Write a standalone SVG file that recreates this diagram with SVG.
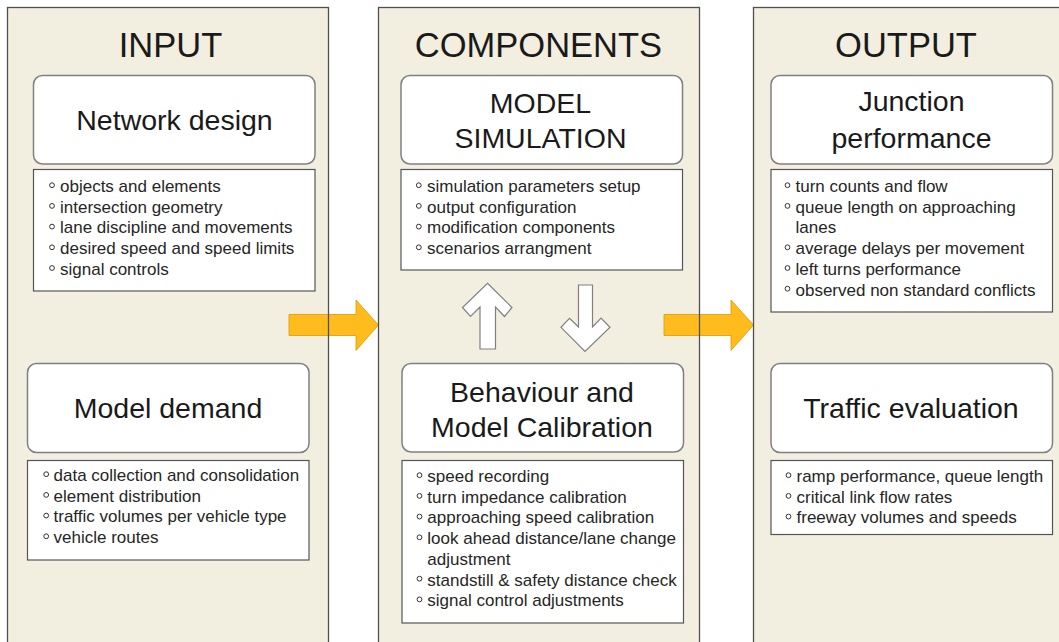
<svg xmlns="http://www.w3.org/2000/svg" width="1059" height="642" viewBox="0 0 1059 642">
<style>
.panel{fill:#F2EFE0;stroke:none}
.pline{fill:none;stroke:#505050;stroke-width:1.3}
.title{font-family:"Liberation Sans",Arial,sans-serif;font-size:34.5px;fill:#1a1a1a;text-anchor:middle}
.head{fill:#fff;stroke:#808080;stroke-width:1.5}
.htxt{font-family:"Liberation Sans",Arial,sans-serif;font-size:28.5px;fill:#1a1a1a;text-anchor:middle}
.list{fill:#fff;stroke:#555;stroke-width:1.2}
.ltxt{font-family:"Liberation Sans",Arial,sans-serif;font-size:17px;fill:#262626}
.bul{fill:#fff;stroke:#333;stroke-width:1}
.orange{fill:#FFBC1C;stroke:#D99A00;stroke-width:0.8}
.white{fill:#fff;stroke:#808080;stroke-width:1.2;stroke-linejoin:miter}
</style>
<rect width="1059" height="642" fill="#fff"/>
<g id="panels-fill">
<rect class="panel" x="7.5" y="7.5" width="321" height="640"/>
<rect class="panel" x="378.5" y="7.5" width="321" height="640"/>
<rect class="panel" x="753.5" y="7.5" width="320" height="640"/>
</g>
<g id="connectors">
<polygon class="orange" points="289,314.5 356,314.5 356,300 378.5,325 356,350.5 356,335.5 289,335.5"/>
<polygon class="orange" points="664,314.5 731,314.5 731,300 753.5,325 731,350.5 731,335.5 664,335.5"/>
<polygon class="white" points="487.5,283.3 512,307.5 504.5,316.5 495.5,307 495.5,349 480,349 480,307 470.5,316.5 462.5,307.5"/>
<polygon class="white" points="578.5,285 592.5,285 592.5,327 601,318 610,327.3 585,351.5 561,327.3 569.5,318.3 578.5,327"/>
</g>
<g id="panels-outline">
<rect class="pline" x="7.5" y="7.5" width="321" height="640"/>
<rect class="pline" x="378.5" y="7.5" width="321" height="640"/>
<rect class="pline" x="753.5" y="7.5" width="320" height="640"/>
</g>
<g id="title-input"><text class="title" x="170.5" y="57">INPUT</text></g>
<g id="network-design">
<rect class="head" x="33.5" y="75.5" width="281.5" height="88.5" rx="9"/>
<text class="htxt" x="174.5" y="129.5">Network design</text>
</g>
<g id="network-design-list">
<rect class="list" x="33.5" y="169.5" width="281.5" height="121.5"/>
<g class="bul"><circle cx="52" cy="185.2" r="2.4"/><circle cx="52" cy="205.9" r="2.4"/><circle cx="52" cy="226.6" r="2.4"/><circle cx="52" cy="247.3" r="2.4"/><circle cx="52" cy="268" r="2.4"/></g>
<text class="ltxt" x="60" y="192">objects and elements</text>
<text class="ltxt" x="60" y="212.7">intersection geometry</text>
<text class="ltxt" x="60" y="233.4">lane discipline and movements</text>
<text class="ltxt" x="60" y="254.1">desired speed and speed limits</text>
<text class="ltxt" x="60" y="274.8">signal controls</text>
</g>
<g id="model-demand">
<rect class="head" x="27.5" y="363.5" width="281.5" height="89" rx="9"/>
<text class="htxt" x="168" y="418">Model demand</text>
</g>
<g id="model-demand-list">
<rect class="list" x="27.5" y="460.5" width="281.5" height="99.5"/>
<g class="bul"><circle cx="46.2" cy="474.2" r="2.4"/><circle cx="46.2" cy="494.9" r="2.4"/><circle cx="46.2" cy="515.6" r="2.4"/><circle cx="46.2" cy="536.3" r="2.4"/></g>
<text class="ltxt" x="53.5" y="481">data collection and consolidation</text>
<text class="ltxt" x="53.5" y="501.7">element distribution</text>
<text class="ltxt" x="53.5" y="522.4">traffic volumes per vehicle type</text>
<text class="ltxt" x="53.5" y="543.1">vehicle routes</text>
</g>
<g id="title-components"><text class="title" x="538.5" y="57">COMPONENTS</text></g>
<g id="model-simulation">
<rect class="head" x="401" y="75.5" width="281.5" height="88.5" rx="9"/>
<text class="htxt" x="540.5" y="112.7">MODEL</text>
<text class="htxt" x="540.5" y="148.3">SIMULATION</text>
</g>
<g id="model-simulation-list">
<rect class="list" x="401" y="169.5" width="281.5" height="100.5"/>
<g class="bul"><circle cx="418.8" cy="185.2" r="2.4"/><circle cx="418.8" cy="205.9" r="2.4"/><circle cx="418.8" cy="226.6" r="2.4"/><circle cx="418.8" cy="247.3" r="2.4"/></g>
<text class="ltxt" x="427" y="192">simulation parameters setup</text>
<text class="ltxt" x="427" y="212.7">output configuration</text>
<text class="ltxt" x="427" y="233.4">modification components</text>
<text class="ltxt" x="427" y="254.1">scenarios arrangment</text>
</g>
<g id="behaviour-calibration">
<rect class="head" x="402" y="363.5" width="281.5" height="88.5" rx="9"/>
<text class="htxt" x="542" y="401.7">Behaviour and</text>
<text class="htxt" x="542" y="436.5">Model Calibration</text>
</g>
<g id="behaviour-calibration-list">
<rect class="list" x="402" y="460.5" width="281.5" height="162.5"/>
<g class="bul"><circle cx="419.5" cy="475.2" r="2.4"/><circle cx="419.5" cy="495.9" r="2.4"/><circle cx="419.5" cy="516.6" r="2.4"/><circle cx="419.5" cy="537.3" r="2.4"/><circle cx="419.5" cy="578.7" r="2.4"/><circle cx="419.5" cy="599.4" r="2.4"/></g>
<text class="ltxt" x="427.3" y="482">speed recording</text>
<text class="ltxt" x="427.3" y="502.7">turn impedance calibration</text>
<text class="ltxt" x="427.3" y="523.4">approaching speed calibration</text>
<text class="ltxt" x="427.3" y="544.1">look ahead distance/lane change</text>
<text class="ltxt" x="427.3" y="564.8">adjustment</text>
<text class="ltxt" x="427.3" y="585.5">standstill &amp; safety distance check</text>
<text class="ltxt" x="427.3" y="606.2">signal control adjustments</text>
</g>
<g id="title-output"><text class="title" x="906" y="57">OUTPUT</text></g>
<g id="junction-performance">
<rect class="head" x="771" y="75.5" width="281.5" height="88.5" rx="9"/>
<text class="htxt" x="911.5" y="111">Junction</text>
<text class="htxt" x="911.5" y="147.5">performance</text>
</g>
<g id="junction-performance-list">
<rect class="list" x="771" y="169.5" width="281.5" height="142.5"/>
<g class="bul"><circle cx="787.5" cy="185.2" r="2.4"/><circle cx="787.5" cy="205.9" r="2.4"/><circle cx="787.5" cy="247.3" r="2.4"/><circle cx="787.5" cy="268" r="2.4"/><circle cx="787.5" cy="288.7" r="2.4"/></g>
<text class="ltxt" x="795.5" y="192">turn counts and flow</text>
<text class="ltxt" x="795.5" y="212.7">queue length on approaching</text>
<text class="ltxt" x="795.5" y="233.4">lanes</text>
<text class="ltxt" x="795.5" y="254.1">average delays per movement</text>
<text class="ltxt" x="795.5" y="274.8">left turns performance</text>
<text class="ltxt" x="795.5" y="295.5">observed non standard conflicts</text>
</g>
<g id="traffic-evaluation">
<rect class="head" x="771" y="363.5" width="281.5" height="89" rx="9"/>
<text class="htxt" x="911" y="418">Traffic evaluation</text>
</g>
<g id="traffic-evaluation-list">
<rect class="list" x="771" y="460.5" width="281.5" height="74"/>
<g class="bul"><circle cx="788.5" cy="475.2" r="2.4"/><circle cx="788.5" cy="495.9" r="2.4"/><circle cx="788.5" cy="516.6" r="2.4"/></g>
<text class="ltxt" x="796.5" y="482">ramp performance, queue length</text>
<text class="ltxt" x="796.5" y="502.7">critical link flow rates</text>
<text class="ltxt" x="796.5" y="523.4">freeway volumes and speeds</text>
</g>
</svg>
